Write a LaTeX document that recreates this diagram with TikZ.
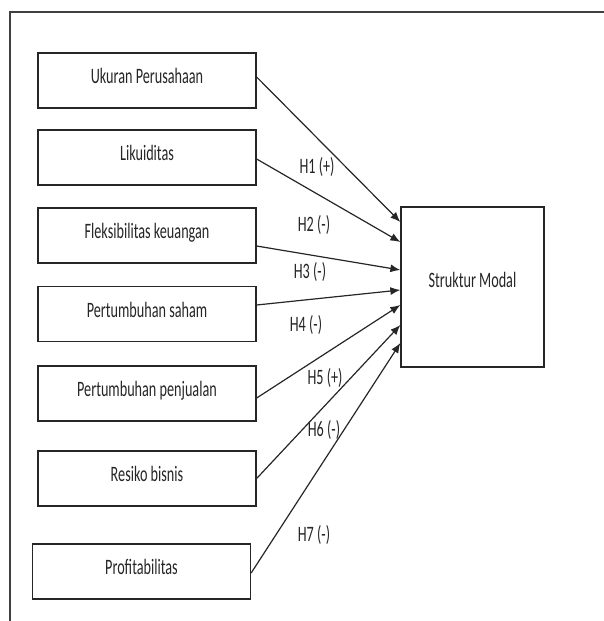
\documentclass[tikz,border=0pt]{standalone}
\usepackage{fontspec}
\setmainfont{Carlito}
\usetikzlibrary{calc,arrows.meta}
\newcommand{\tallt}[1]{\scalebox{1}[1.55]{#1}}
\newcommand{\boxt}[2]{\raisebox{#1}[0pt][0pt]{\tallt{#2}}}
\begin{document}
\begin{tikzpicture}[x=1pt,y=-1pt,
  varbox/.style={draw=black!85,line width=1.3pt,minimum width=218pt,minimum height=55pt,inner sep=0pt,font=\fontsize{14.2}{17}\selectfont,text=black!85},
  hyp/.style={font=\fontsize{14.2}{17}\selectfont,text=black!85,inner sep=0pt},
  link/.style={draw=black!85,line width=1.2pt,-{Latex[length=10pt,width=8pt]}}]
\useasboundingbox (0,0) rectangle (604,621);
\draw[line width=1.5pt,black!75] (604,12) -- (10,12) -- (10,621);
\node[varbox] (b1) at (147,80.5) {\boxt{-3pt}{Ukuran Perusahaan}};
\node[varbox] (b2) at (147,157.5) {\boxt{-3pt}{Likuiditas}};
\node[varbox] (b3) at (147,235.5) {\boxt{-3pt}{Fleksibilitas keuangan}};
\node[varbox] (b4) at (147,314) {\boxt{-3pt}{Pertumbuhan saham}};
\node[varbox] (b5) at (147,393.5) {\boxt{-3pt}{Pertumbuhan penjualan}};
\node[varbox] (b6) at (147,478.5) {\boxt{-3pt}{Resiko bisnis}};
\node[varbox] (b7) at (141.5,571.5) {\boxt{-3pt}{Profitabilitas}};
\node[varbox,minimum width=143pt,minimum height=160pt] (sm) at (472.5,287) {\boxt{0pt}{Struktur Modal}};
\draw[link] ($(b1.east)+(0,-3.5)$) -- ($(sm.west)+(0,-65)$);
\draw[link] ($(b2.east)+(0,1.5)$) -- ($(sm.west)+(0,-45)$);
\draw[link] ($(b3.east)+(0,10.5)$) -- ($(sm.west)+(0,-17)$);
\draw[link] ($(b4.east)+(0,-9)$) -- ($(sm.west)+(0,3)$);
\draw[link] ($(b5.east)+(0,4.5)$) -- ($(sm.west)+(0,18)$);
\draw[link] ($(b6.east)+(0,0)$) -- ($(sm.west)+(0,38)$);
\draw[link] ($(b7.east)+(0,1.5)$) -- ($(sm.west)+(0,56)$);
\node[hyp] (h1) at (317,167) {\tallt{H1 (+)}};
\node[hyp] (h2) at (314,225) {\tallt{H2 (-)}};
\node[hyp] (h3) at (310,272) {\tallt{H3 (-)}};
\node[hyp] (h4) at (306,325) {\tallt{H4 (-)}};
\node[hyp] (h5) at (325,378) {\tallt{H5 (+)}};
\node[hyp] (h6) at (324,430) {\tallt{H6 (-)}};
\node[hyp] (h7) at (314,535) {\tallt{H7 (-)}};
\end{tikzpicture}
\end{document}
